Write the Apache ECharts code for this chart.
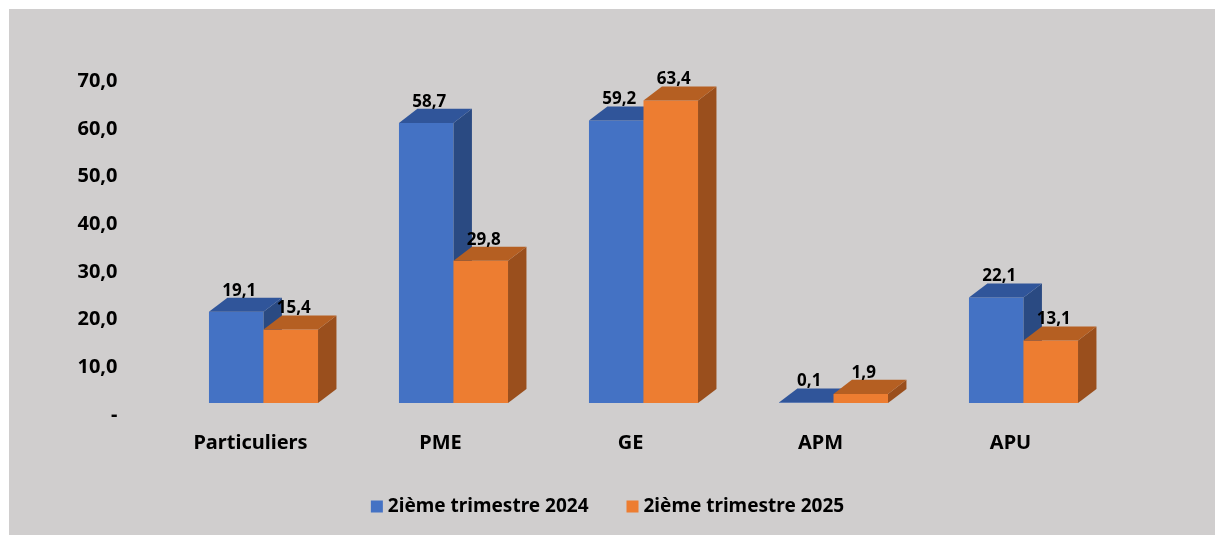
<!DOCTYPE html>
<html>
<head>
<meta charset="utf-8">
<script src="https://cdn.jsdelivr.net/npm/echarts@6/dist/echarts.min.js"></script>
<style>
  html, body { margin: 0; padding: 0; background: #ffffff; }
  #chart { width: 1215px; height: 535px; }
</style>
</head>
<body>
<div id="chart"></div>
<script>
const categories = ['Particuliers', 'PME', 'GE', 'APM', 'APU']
const values2024 = [19.1, 58.7, 59.2, 0.1, 22.1]
const values2025 = [15.4, 29.8, 63.4, 1.9, 13.1]
const seriesNames = ['2ième trimestre 2024', '2ième trimestre 2025']

const FONT = '"Noto Sans", "Open Sans", sans-serif'

const palette = [
  { front: '#4472C4', top: '#30559A', side: '#2A4A82' },
  { front: '#ED7D31', top: '#B55F22', side: '#9A4F1D' }
]

const fmt = (v) => v.toFixed(1).replace('.', ',')

// draws a pseudo-3D box: front face, top face, right side face
const makeRender = (slot, colors) => (params, api) => {
  const cat = api.value(0)
  const val = api.value(1)
  const base = api.coord([cat, 0])
  const top = api.coord([cat, val])
  const band = api.size([1, 0])[0]
  const w = band * 0.287
  const dx = band * 0.097
  const dy = band * 0.074
  const x0 = slot === 0 ? base[0] - w : base[0]
  const by = base[1]
  const ty = top[1]
  return {
    type: 'group',
    children: [
      {
        type: 'rect',
        shape: { x: x0, y: ty, width: w, height: by - ty },
        style: { fill: colors.front }
      },
      {
        type: 'polygon',
        shape: { points: [[x0 + w, ty], [x0 + w + dx, ty - dy], [x0 + w + dx, by - dy], [x0 + w, by]] },
        style: { fill: colors.side }
      },
      {
        type: 'polygon',
        shape: { points: [[x0, ty], [x0 + w, ty], [x0 + w + dx, ty - dy], [x0 + dx, ty - dy]] },
        style: { fill: colors.top }
      },
      {
        type: 'text',
        style: {
          text: fmt(val),
          x: x0 + w / 2 + 3,
          y: ty - 21,
          align: 'center',
          verticalAlign: 'middle',
          fontFamily: FONT,
          fontWeight: 'bold',
          fontSize: 17,
          fill: '#000000'
        }
      }
    ]
  }
}

const chart = echarts.init(document.getElementById('chart'))

const option = {
  backgroundColor: '#ffffff',
  animation: false,
  graphic: [
    {
      type: 'rect',
      silent: true,
      z: -10,
      shape: { x: 9, y: 9, width: 1206, height: 526 },
      style: { fill: '#D0CECE' }
    }
  ],
  legend: {
    data: seriesNames,
    left: 'center',
    top: 492,
    itemWidth: 12,
    itemHeight: 12,
    itemGap: 38,
    icon: 'rect',
    textStyle: { fontFamily: FONT, fontWeight: 'bold', fontSize: 19, color: '#000000' }
  },
  grid: [
    // axis labels (back wall)
    { left: 155.5, right: 109.5, top: 81.5, bottom: 120 },
    // bars (front faces)
    { left: 168.5, right: 96.5, top: 69, bottom: 132 }
  ],
  xAxis: [
    {
      type: 'category',
      gridIndex: 0,
      data: categories,
      axisLine: { show: false },
      axisTick: { show: false },
      axisLabel: {
        margin: 18,
        fontFamily: FONT,
        fontWeight: 'bold',
        fontSize: 20,
        color: '#000000'
      }
    },
    {
      type: 'category',
      gridIndex: 1,
      data: categories,
      show: false
    }
  ],
  yAxis: [
    {
      type: 'value',
      gridIndex: 0,
      min: 0,
      max: 70,
      interval: 10,
      axisLine: { show: false },
      axisTick: { show: false },
      splitLine: { show: false },
      axisLabel: {
        margin: 38,
        fontFamily: FONT,
        fontWeight: 'bold',
        fontSize: 20,
        color: '#000000',
        formatter: (v) => (v === 0 ? '-' : fmt(v))
      }
    },
    {
      type: 'value',
      gridIndex: 1,
      min: 0,
      max: 70,
      show: false
    }
  ],
  series: [values2024, values2025].map((vals, i) => ({
    name: seriesNames[i],
    type: 'custom',
    xAxisIndex: 1,
    yAxisIndex: 1,
    itemStyle: { color: palette[i].front },
    encode: { x: 0, y: 1 },
    data: vals.map((v, k) => [k, v]),
    renderItem: makeRender(i, palette[i])
  }))
}

chart.setOption(option)
</script>
</body>
</html>
